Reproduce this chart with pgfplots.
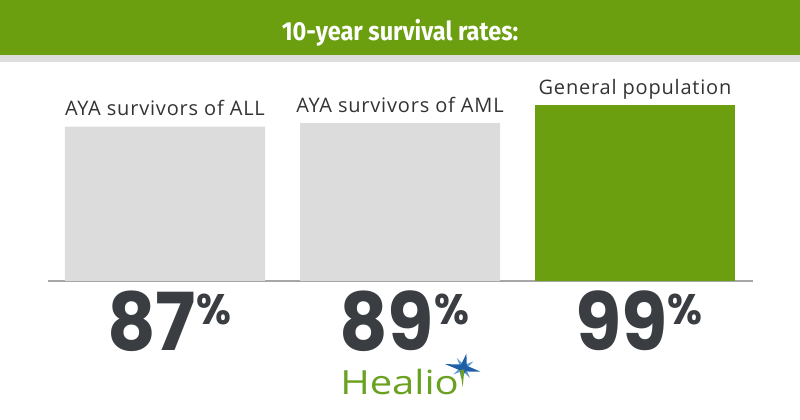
\documentclass[border=0pt]{standalone}
\usepackage{pgfplots}
\pgfplotsset{compat=1.18}
\usepackage{pgfplotstable}
\usepackage{fontspec}
\setmainfont{Open Sans}
\newfontfamily\labfont[LetterSpace=4]{Open Sans}
\newfontfamily\logofont[FakeStretch=1.2]{Open Sans}
\newfontfamily\titlefont[FakeStretch=0.9]{Fira Sans}
\newfontfamily\numfont[FakeStretch=0.94]{Poppins}
\definecolor{hgreen}{HTML}{6B9F10}
\definecolor{bargrey}{HTML}{DCDCDC}
\definecolor{numgrey}{HTML}{3A3D41}
\definecolor{labgrey}{HTML}{333333}
\definecolor{stripgrey}{HTML}{DDDDDD}
\definecolor{healgreen}{HTML}{6AA121}
\definecolor{starblue}{HTML}{1F5FA8}
\definecolor{starlight}{HTML}{5A9BD5}
\newcommand\pct[1]{{\numfont\bfseries\fontsize{60}{60}\selectfont #1\raisebox{19.5pt}{\fontsize{32}{32}\selectfont\%}}}

\pgfplotstableread[col sep=comma]{
x,y,label
0,87,AYA survivors of ALL
1,89,AYA survivors of AML
}\greytab
\pgfplotstableread[col sep=comma]{
x,y,label
2,99,General population
}\greentab

\begin{document}
\begin{tikzpicture}[x=1pt,y=1pt]
\path[use as bounding box] (0,0) rectangle (600,315);
\fill[hgreen] (0,273.75) rectangle (600,315);
\fill[stripgrey] (0,268.5) rectangle (600,273.75);
\node[anchor=base, text=white, font=\titlefont\bfseries\fontsize{19.6}{19.6}\selectfont, inner sep=0pt] at (300,284.5) {10-year survival rates:};

\begin{axis}[at={(35.625pt,104.25pt)}, anchor=south west, scale only axis,
  width=528.75pt, height=133.125pt,
  xmin=-0.5, xmax=2.5, ymin=0, ymax=100, clip=false,
  hide y axis, axis x line*=bottom,
  x axis line style={-, draw=gray!70, line width=1pt},
  xtick={0,1,2}, xticklabels={\pct{87},\pct{89},\pct{99}},
  major tick length=0pt,
  xticklabel style={anchor=base, yshift=-52.5pt, xshift=3pt, text=numgrey, inner sep=0pt},
  ybar, bar width=150pt,
  nodes near coords, point meta=explicit symbolic,
  every node near coord/.append style={anchor=base, yshift=8.25pt, text=labgrey, font=\labfont\fontsize{15}{15}\selectfont, inner sep=0pt}]
\addplot[fill=bargrey, draw=none, bar shift=0pt] table[x=x,y=y,meta=label]{\greytab};
\addplot[fill=hgreen, draw=none, bar shift=0pt] table[x=x,y=y,meta=label]{\greentab};
\end{axis}

\node[anchor=base west, inner sep=0pt, text=healgreen, font=\logofont\fontsize{25}{25}\selectfont] at (255,18.75) {Healio};
\begin{scope}[shift={(347.5,39)}, rotate=-12]
\fill[starlight, rotate=45] (0,9) -- (1.5,1.5) -- (9,0) -- (1.5,-1.5) -- (0,-9) -- (-1.5,-1.5) -- (-9,0) -- (-1.5,1.5) -- cycle;
\fill[starblue] (0,11) -- (2.2,2.2) -- (13,0) -- (2.2,-2.2) -- (0,-8) -- (-2.2,-2.2) -- (-14,0) -- (-2.2,2.2) -- cycle;
\fill[healgreen] (1,-1) -- (2.5,-14) -- (-2,-2) -- cycle;
\end{scope}
\end{tikzpicture}
\end{document}
